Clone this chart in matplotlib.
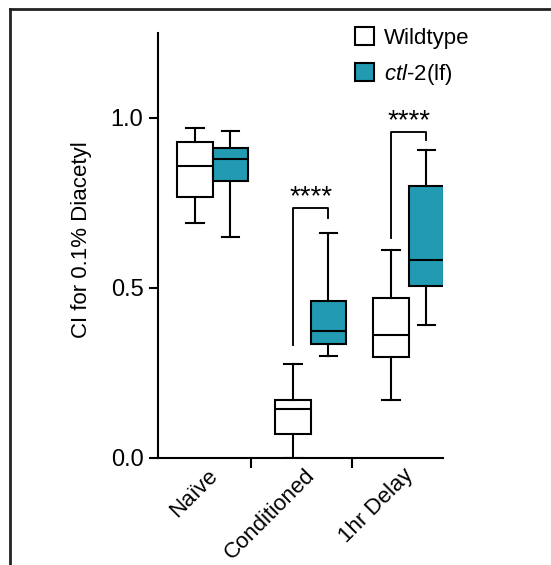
import numpy as np
import matplotlib.pyplot as plt
from matplotlib.patches import Patch
from matplotlib.lines import Line2D

plt.rcParams['font.family'] = ['Liberation Sans', 'DejaVu Sans']
plt.rcParams['mathtext.fontset'] = 'custom'
plt.rcParams['mathtext.rm'] = 'Liberation Sans'
plt.rcParams['mathtext.it'] = 'Liberation Sans:italic'

# values
groups = ['Naïve', 'Conditioned', '1hr Delay']
wt_lo  = [0.690, 0.000, 0.172]
wt_q1  = [0.769, 0.072, 0.298]
wt_med = [0.860, 0.145, 0.361]
wt_q3  = [0.929, 0.171, 0.472]
wt_hi  = [0.971, 0.276, 0.611]
ctl_lo  = [0.651, 0.300, 0.390]
ctl_q1  = [0.816, 0.335, 0.505]
ctl_med = [0.880, 0.374, 0.583]
ctl_q3  = [0.913, 0.463, 0.801]
ctl_hi  = [0.962, 0.661, 0.906]
# significance brackets: (group, left foot, top, right foot, label)
sig = [(1, 0.332, 0.734, 0.705, '****'),
       (2, 0.646, 0.958, 0.935, '****')]

TEAL = '#219AB2'
FS = 16
LW = 1.5

def stats(lo, q1, med, q3, hi):
    return [dict(whislo=a, q1=b, med=c, q3=d, whishi=e, fliers=[])
            for a, b, c, d, e in zip(lo, q1, med, q3, hi)]

fig = plt.figure(figsize=(5.51, 5.65), dpi=100)
ax = fig.add_axes([0.2868, 0.1894, 0.804 - 0.2868, 0.9416 - 0.1894])

x = np.arange(len(groups))
off = 0.18
w = 0.36
line = dict(color='black', linewidth=LW)
ax.bxp(stats(wt_lo, wt_q1, wt_med, wt_q3, wt_hi), positions=x - off, widths=w,
       patch_artist=True, showfliers=False,
       boxprops=dict(facecolor='white', edgecolor='black', linewidth=LW),
       medianprops=line, whiskerprops=line, capprops=line)
ax.bxp(stats(ctl_lo, ctl_q1, ctl_med, ctl_q3, ctl_hi), positions=x + off, widths=w,
       patch_artist=True, showfliers=False,
       boxprops=dict(facecolor=TEAL, edgecolor='black', linewidth=LW),
       medianprops=line, whiskerprops=line, capprops=line)

for g, yl, yt, yr, lab in sig:
    ax.plot([g - off, g - off, g + off, g + off], [yl, yt, yt, yr],
            color='black', linewidth=LW * 0.9, clip_on=False)
    ax.text(g, yt + 0.012, lab, ha='center', va='baseline', fontsize=20)

ax.set_xlim(-0.558, 2.35)
ax.set_ylim(0, 1.25)
ax.set_yticks([0, 0.5, 1.0], ['0.0', '0.5', '1.0'])
ax.set_xticks(x - 0.06, groups, rotation=45, ha='right', rotation_mode='anchor')
ax.set_xticks([0.39, 1.42], minor=True)
ax.tick_params(axis='x', which='major', length=0, pad=5, labelsize=16)
ax.tick_params(axis='x', which='minor', length=7, width=LW, direction='out')
ax.tick_params(axis='y', length=6.5, width=LW, pad=4, labelsize=17)
ax.spines['top'].set_visible(False)
ax.spines['right'].set_visible(False)
ax.spines['left'].set_linewidth(LW)
ax.spines['bottom'].set_linewidth(LW)
ax.set_ylabel('CI for 0.1% Diacetyl', fontsize=FS)
ax.yaxis.set_label_coords(-0.23, 0.513)

handles = [Patch(facecolor='white', edgecolor='black', linewidth=LW, label='Wildtype'),
           Patch(facecolor=TEAL, edgecolor='black', linewidth=LW,
                 label=r'$\mathit{ctl}$-$\mathit{2}$(lf)')]
ax.legend(handles=handles, loc='upper left', bbox_to_anchor=(355 / 551, 1 - 27 / 565),
          bbox_transform=fig.transFigure, frameon=False, fontsize=FS,
          handlelength=0.85, handleheight=0.85, handletextpad=0.45,
          labelspacing=0.6, borderpad=0, borderaxespad=0)

# outer frame (top and left edges only are visible)
fig.add_artist(Line2D([10 / 551, 10 / 551], [0, 1 - 8.5 / 565], color='#222222', linewidth=2))
fig.add_artist(Line2D([10 / 551, 1], [1 - 8.5 / 565, 1 - 8.5 / 565], color='#222222', linewidth=2))

fig.savefig('out.png', dpi=100)
